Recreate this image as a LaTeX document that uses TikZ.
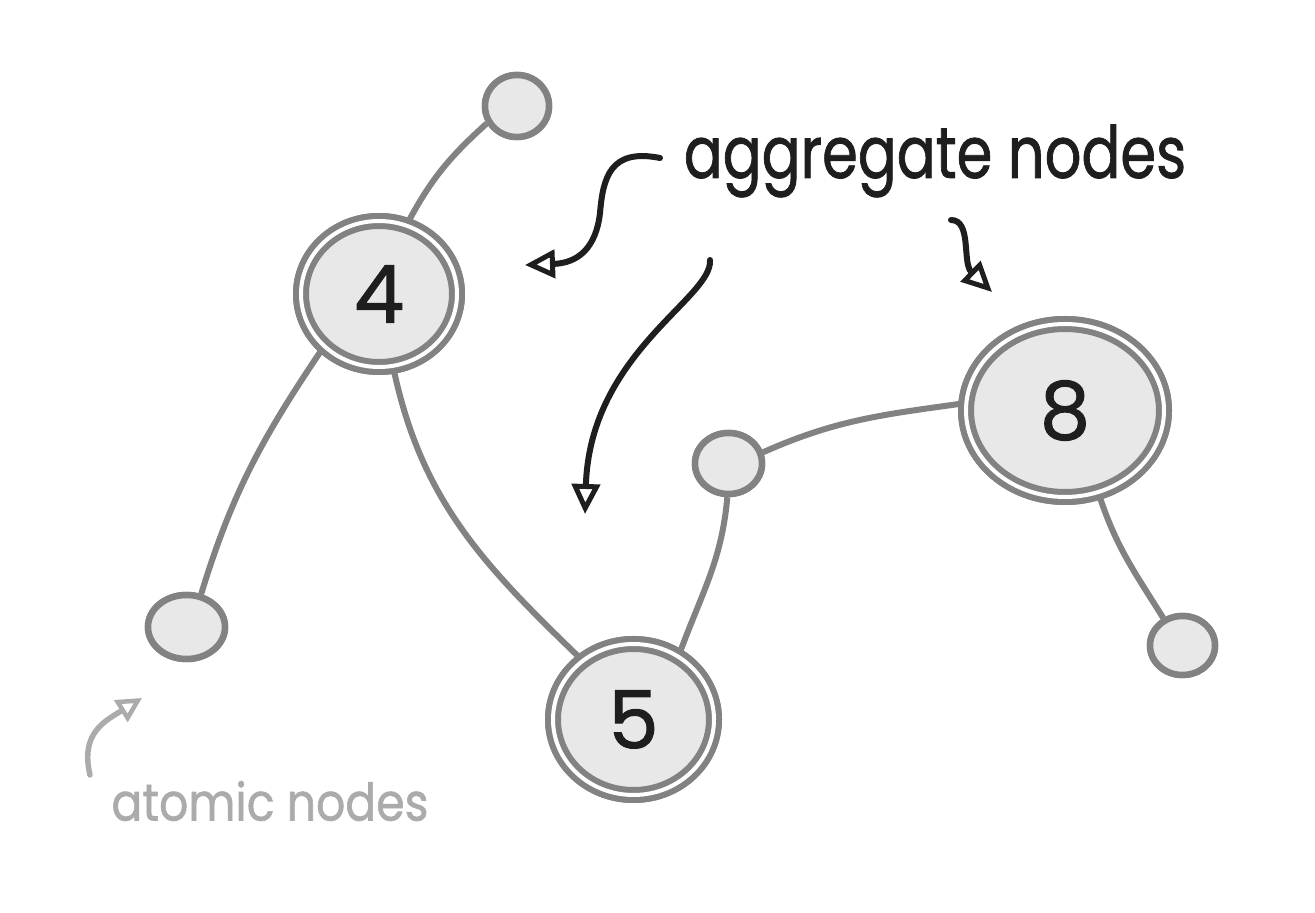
\documentclass[tikz,border=0pt]{standalone}
\usepackage{fontspec}
\setmainfont{Poppins}
\newfontfamily\handfont[FakeBold=1.2]{Poppins}
\usepackage{graphicx}
\usetikzlibrary{shapes.geometric,arrows.meta}
\definecolor{edgegray}{HTML}{828282}
\definecolor{nodefill}{HTML}{E8E8E8}
\definecolor{labelgray}{HTML}{ABABAB}
\definecolor{ink}{HTML}{1E1E1E}
\tikzset{
  atom/.style={ellipse, draw=edgegray, line width=6.5pt, fill=nodefill, inner sep=0pt},
  aggr/.style={ellipse, draw=edgegray, line width=6pt, double=white, double distance=4pt, fill=nodefill, inner sep=0pt, text=ink, font=\handfont\fontsize{80}{80}\selectfont},
  link/.style={draw=edgegray, line width=6pt},
  pointer/.style={draw=ink, line width=6pt, line cap=round, -{Triangle[open, length=30pt, width=28pt, line width=5pt, fill=white]}},
  softpointer/.style={draw=labelgray, line width=5.5pt, line cap=round, -{Triangle[open, length=25pt, width=25pt, line width=4.5pt, fill=white]}},
}
\begin{document}
\begin{tikzpicture}[x=1pt, y=1pt]
\fill[white] (0,0) rectangle (1315,913);
\useasboundingbox (0,0) rectangle (1315,913);

% nodes (placed first to define anchors)
\node[atom, minimum width=64pt, minimum height=62pt] (a1) at (517,807) {};
\node[aggr, minimum width=156pt, minimum height=146pt] (n4) at (379,619) {4};
\node[atom, minimum width=77pt, minimum height=64pt] (a2) at (186.5,286) {};
\node[aggr, minimum width=161pt, minimum height=151pt] (n5) at (633.5,193.5) {5};
\node[atom, minimum width=67pt, minimum height=61pt] (a3) at (728.5,449.5) {};
\node[aggr, minimum width=198pt, minimum height=173pt] (n8) at (1065,502.5) {8};
\node[atom, minimum width=65pt, minimum height=59pt] (a4) at (1182.5,267.5) {};

% links
\path[link] (a1.210) to[out=222, in=62] (n4.68);
\path[link] (n4.224) to[out=236, in=73] (a2.66);
\path[link] (n4.281) to[out=282, in=136] (n5.131);
\path[link] (n5.55) to[out=70, in=265] (a3.268);
\path[link] (a3.18) to[out=24, in=188] (n8.176);
\path[link] (n8.-68) to[out=-72, in=122] (a4.125);

% redraw nodes over links
\node[atom, minimum width=64pt, minimum height=62pt] at (a1) {};
\node[aggr, minimum width=156pt, minimum height=146pt] at (n4) {4};
\node[atom, minimum width=77pt, minimum height=64pt] at (a2) {};
\node[aggr, minimum width=161pt, minimum height=151pt] at (n5) {5};
\node[atom, minimum width=67pt, minimum height=61pt] at (a3) {};
\node[aggr, minimum width=198pt, minimum height=173pt] at (n8) {8};
\node[atom, minimum width=65pt, minimum height=59pt] at (a4) {};

% labels
\node[text=ink, font=\handfont\fontsize{72}{72}\selectfont, inner sep=0pt] (agg) at (935,752) {\scalebox{0.8}[1]{aggregate nodes}};
\node[text=labelgray, font=\handfont\fontsize{52}{52}\selectfont, inner sep=0pt] (atm) at (270,112) {\scalebox{0.88}[1]{atomic nodes}};

% pointer arrows
\coordinate (p1s) at (660,755);
\coordinate (p1e) at (525,648);
\coordinate (p2s) at (710,653);
\coordinate (p2e) at (585,399);
\coordinate (p3s) at (951,693);
\coordinate (p3e) at (992,621);
\coordinate (p4s) at (90,138);
\coordinate (p4e) at (142,215);

\path[pointer] (p1s) .. controls (610,765) and (603,735) .. (600,700) .. controls (596,665) and (578,650) .. (p1e);
\path[pointer] (p2s) .. controls (713,615) and (590,560) .. (p2e);
\path[pointer] (p3s) .. controls (972,693) and (962,650) .. (p3e);
\path[softpointer] (p4s) .. controls (80,180) and (105,192) .. (p4e);
\end{tikzpicture}
\end{document}
